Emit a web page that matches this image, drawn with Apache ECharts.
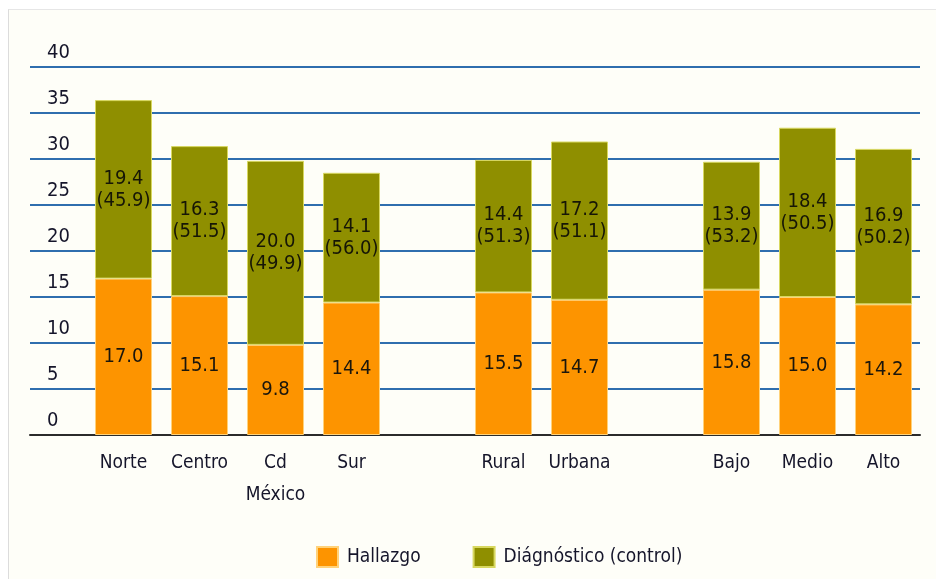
<!DOCTYPE html>
<html>

<head>
    <meta charset="utf-8">
    <script src="https://cdn.jsdelivr.net/npm/echarts@6/dist/echarts.min.js"></script>
    <style>
        body { margin: 0; background: #ffffff; }
        #frame { position: absolute; left: 8px; top: 9px; width: 940px; height: 580px;
                 border-left: 1px solid #dcdcdc; border-top: 1px solid #e6e6e6; background: #fefef8; }
        #echartsMain { position: absolute; left: 0; top: 0; width: 936px; height: 579px; }
    </style>
</head>

<body>
<div id="frame"></div>
<div id="echartsMain"></div>
</body>

</html>

<script type="text/javascript">
    // '' / '-' = spacer slot between the groups
    let categories = ['Norte', 'Centro', 'Cd\nMéxico', 'Sur', '', 'Rural', 'Urbana', '', 'Bajo', 'Medio', 'Alto']
    let hallazgo = [17.0, 15.1, 9.8, 14.4, '-', 15.5, 14.7, '-', 15.8, 15.0, 14.2]
    let diagnostico = [19.4, 16.3, 20.0, 14.1, '-', 14.4, 17.2, '-', 13.9, 18.4, 16.9]
    let diagnosticoPct = [45.9, 51.5, 49.9, 56.0, null, 51.3, 51.1, null, 53.2, 50.5, 50.2]
    let yTicks = [0, 5, 10, 15, 20, 25, 30, 35, 40]

    let font = '"DejaVu Sans Condensed", "Liberation Sans Narrow", sans-serif'
    let txt = '#15152a'

    function draw() {
        let myChart = echarts.init(document.getElementById('echartsMain'))

        let option = {
            backgroundColor: 'transparent',
            textStyle: { fontFamily: font },
            grid: [
                { left: 85.5, right: 14.5, top: 67, bottom: 144 },
                { left: 30, right: 16, top: 67, bottom: 144 }
            ],
            legend: {
                data: ['Hallazgo', 'Diágnóstico (control)'],
                left: 311,
                top: 541,
                itemWidth: 21,
                itemHeight: 20,
                itemGap: 52,
                icon: 'rect',
                textStyle: { fontFamily: font, fontSize: 19, color: txt, padding: [0, 0, 0, 4] }
            },
            xAxis: [
                {
                    type: 'category',
                    gridIndex: 0,
                    data: categories,
                    axisLine: { show: false },
                    axisTick: { show: false },
                    axisLabel: { interval: 0, fontSize: 19, color: txt, margin: 12, lineHeight: 32, fontFamily: font }
                },
                {
                    type: 'value',
                    gridIndex: 1,
                    min: 0,
                    max: 1,
                    axisLine: { show: true, lineStyle: { color: '#2b2b2b', width: 2 } },
                    axisTick: { show: false },
                    axisLabel: { show: false },
                    splitLine: { show: false }
                }
            ],
            yAxis: [
                {
                    type: 'value',
                    gridIndex: 0,
                    min: 0,
                    max: 40,
                    interval: 5,
                    show: false
                },
                {
                    type: 'value',
                    gridIndex: 1,
                    min: yTicks[0],
                    max: yTicks[yTicks.length - 1],
                    interval: 5,
                    axisLine: { show: false },
                    axisTick: { show: false },
                    splitLine: { lineStyle: { color: '#2f6eae', width: 2 } },
                    axisLabel: {
                        inside: true,
                        margin: 17,
                        verticalAlign: 'bottom',
                        padding: [0, 0, 4, 0],
                        fontSize: 20,
                        color: txt,
                        fontFamily: font
                    }
                }
            ],
            series: [
                {
                    name: 'Hallazgo',
                    type: 'bar',
                    stack: 'total',
                    xAxisIndex: 0,
                    yAxisIndex: 0,
                    barWidth: 57,
                    z: 3,
                    itemStyle: { color: '#fd9400', borderColor: '#ffd27a', borderWidth: 1 },
                    label: {
                        show: true,
                        position: 'inside',
                        fontSize: 20,
                        color: '#1a160c',
                        fontFamily: font,
                        formatter: p => p.value.toFixed(1)
                    },
                    data: hallazgo
                },
                {
                    name: 'Diágnóstico (control)',
                    type: 'bar',
                    stack: 'total',
                    xAxisIndex: 0,
                    yAxisIndex: 0,
                    barWidth: 57,
                    z: 3,
                    itemStyle: { color: '#8f8f00', borderColor: '#d8d860', borderWidth: 1 },
                    label: {
                        show: true,
                        position: 'inside',
                        fontSize: 20,
                        lineHeight: 22,
                        color: '#161606',
                        fontFamily: font,
                        formatter: p => p.value.toFixed(1) + '\n(' + diagnosticoPct[p.dataIndex].toFixed(1) + ')'
                    },
                    data: diagnostico
                }
            ]
        }
        myChart.setOption(option)
    }

    draw()
</script>
